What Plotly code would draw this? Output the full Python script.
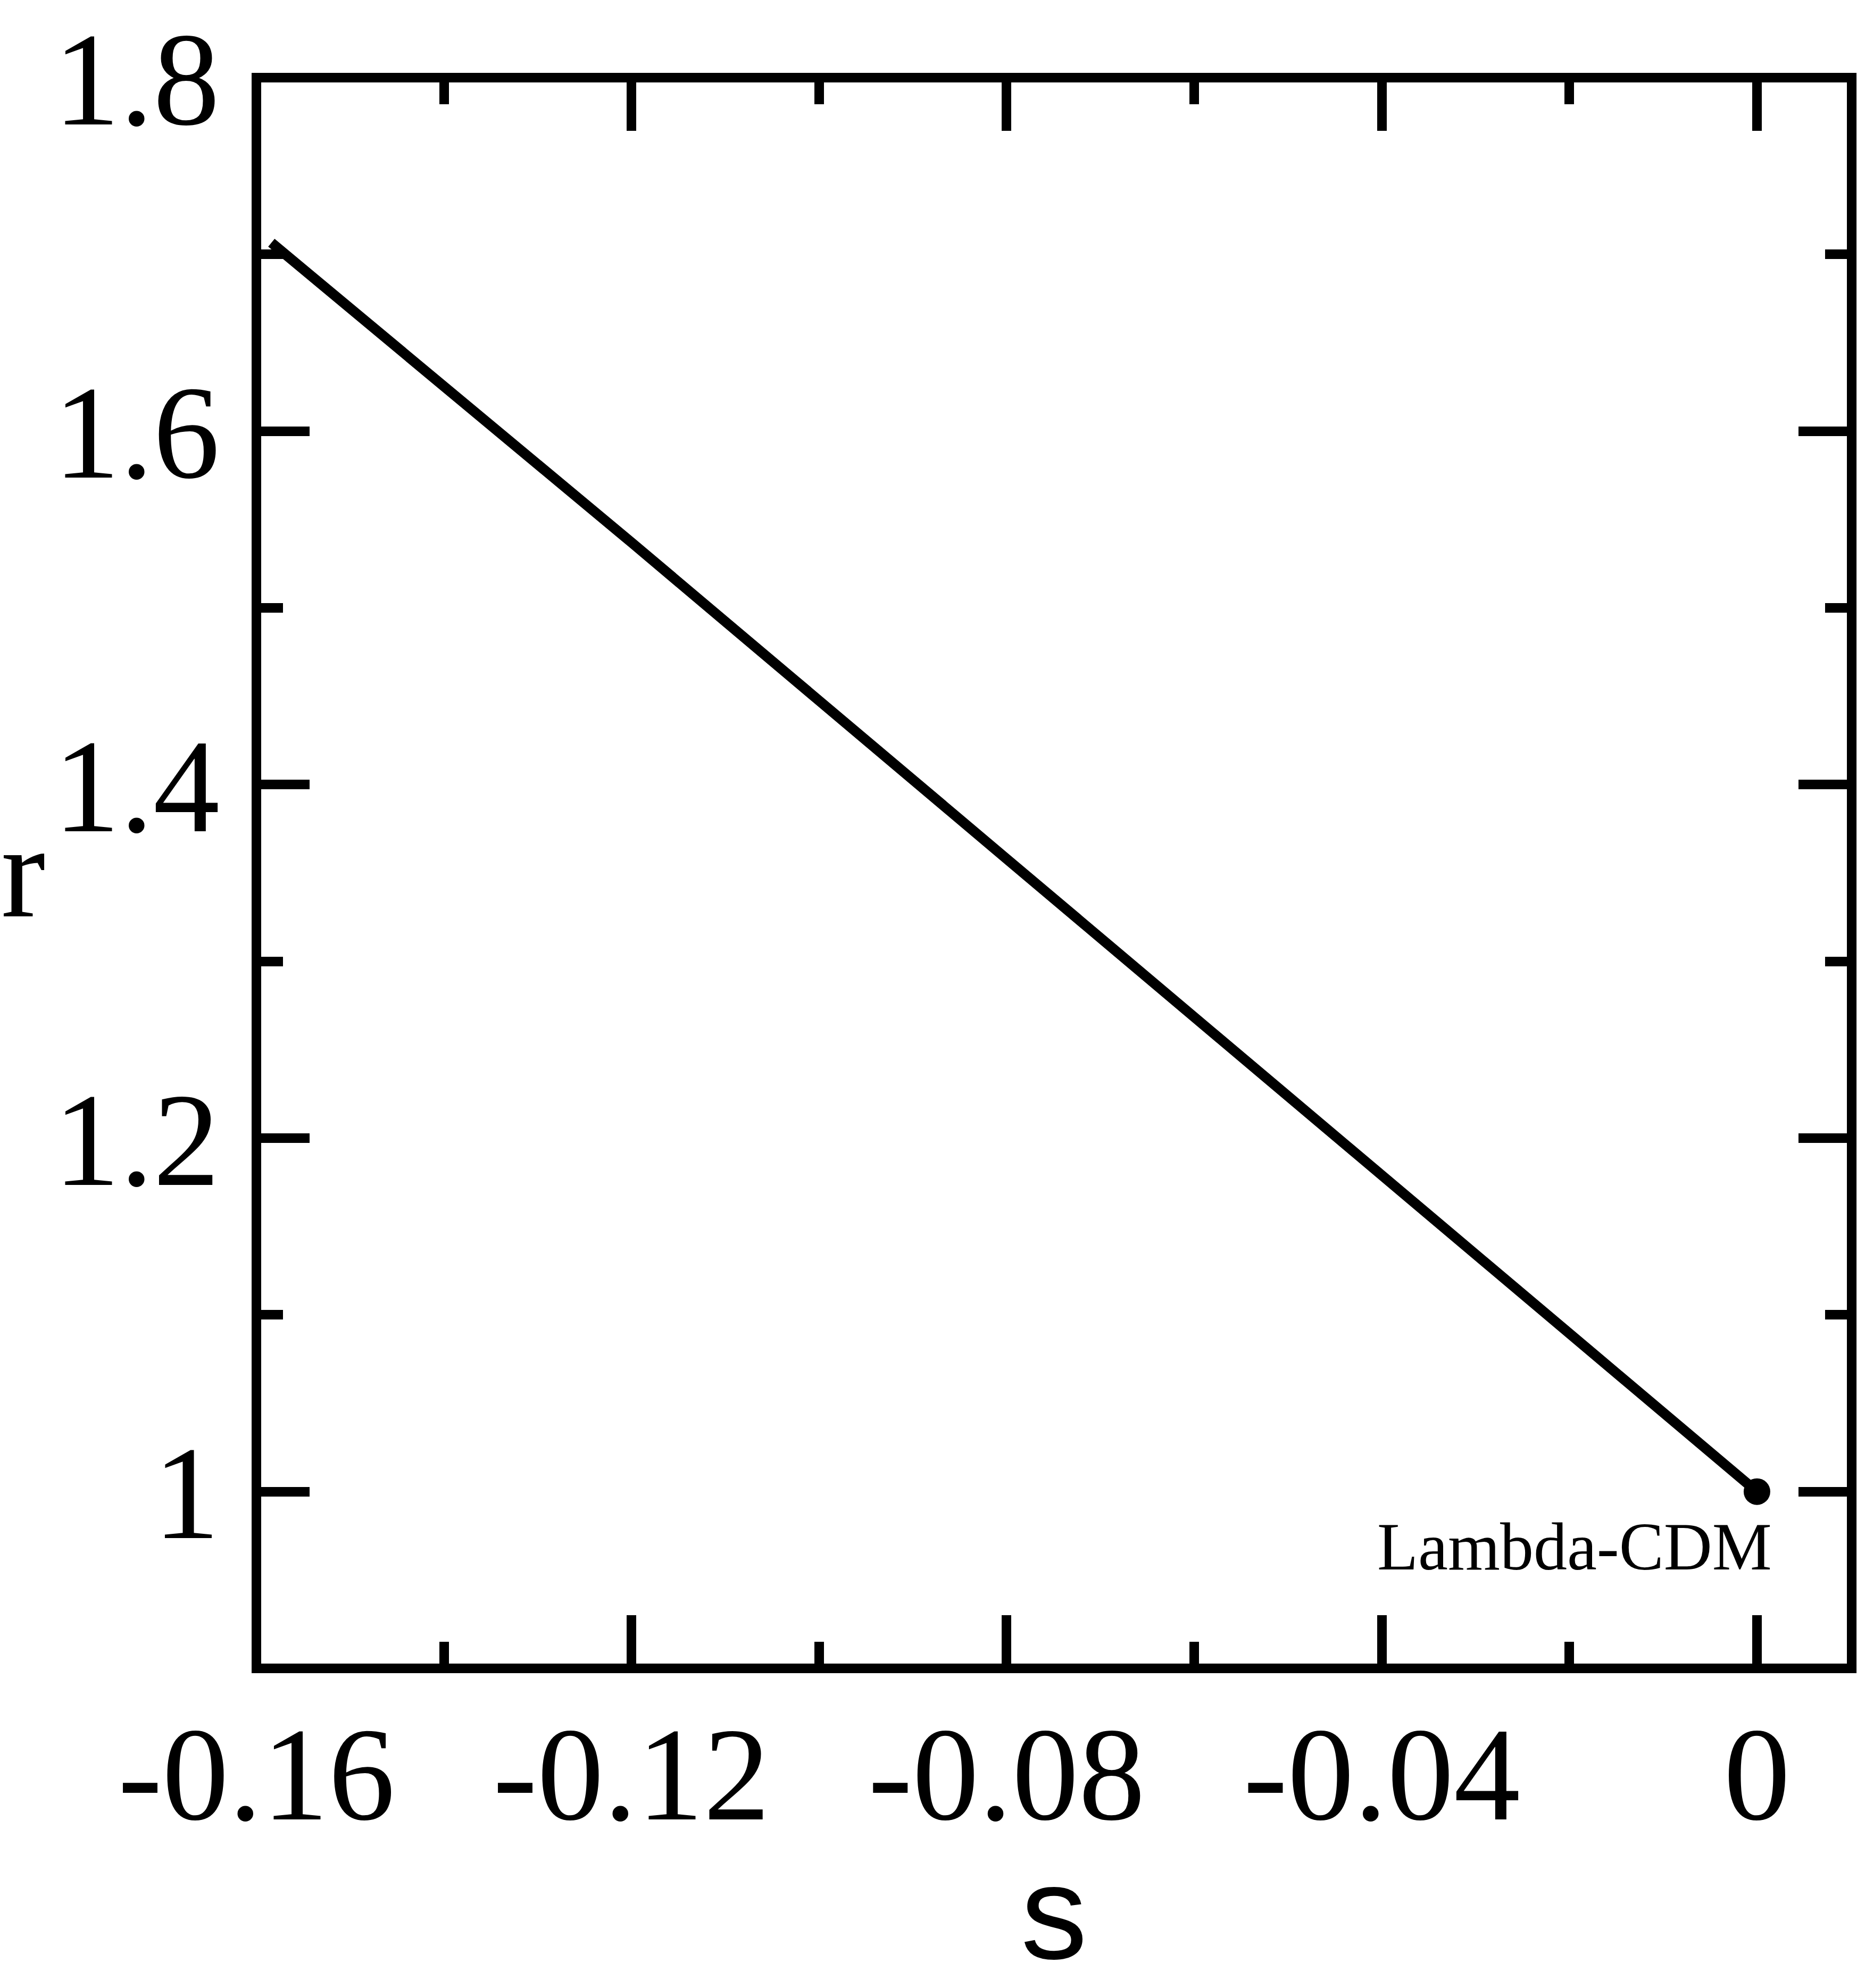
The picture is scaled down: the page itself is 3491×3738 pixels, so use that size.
import plotly.graph_objects as go

# statefinder trajectory r(s)
s_vals = [-0.1584, -0.12, -0.08, -0.04, 0.0]
r_vals = [1.7066, 1.537, 1.358, 1.179, 1.0]

# Lambda-CDM fixed point
lcdm_s = [0.0]
lcdm_r = [1.0]

x_ticks = [-0.16, -0.12, -0.08, -0.04, 0.0]
x_ticktext = ["-0.16", "-0.12", "-0.08", "-0.04", "0"]
y_ticks = [1.0, 1.2, 1.4, 1.6, 1.8]
y_ticktext = ["1", "1.2", "1.4", "1.6", "1.8"]

W, H = 3491, 3738
L, R, T, B = 482, 10, 139, 601
serif = "Liberation Serif, Times New Roman, serif"
sans = "Liberation Sans, Arial, sans-serif"


def px_to_paper(px, py):
    # pixel position in the page -> paper coords of the plot area
    return (px - L) / (W - L - R), 1 - (py - T) / (H - T - B)


fig = go.Figure()
fig.add_trace(go.Scatter(x=s_vals, y=r_vals, mode="lines",
                         line=dict(color="black", width=19), showlegend=False))
fig.add_trace(go.Scatter(x=lcdm_s, y=lcdm_r, mode="markers",
                         marker=dict(color="black", size=50), showlegend=False))

axis_common = dict(
    showline=False, showgrid=False, zeroline=False,
    ticks="inside", ticklen=100, tickwidth=18, tickcolor="black",
    mirror="ticks", tickfont=dict(family=serif, size=250, color="black"),
)

fig.update_xaxes(range=[-0.16, 0.0101], tickmode="array", tickvals=x_ticks,
                 ticktext=x_ticktext, ticklabelstandoff=33,
                 minor=dict(tickmode="linear", tick0=0, dtick=0.02, ticks="inside",
                            ticklen=50, tickwidth=18, tickcolor="black", showgrid=False),
                 **axis_common)
fig.update_yaxes(range=[0.9, 1.8], tickmode="array", tickvals=y_ticks,
                 ticktext=y_ticktext, ticklabelstandoff=68,
                 minor=dict(tickmode="linear", tick0=0, dtick=0.1, ticks="inside",
                            ticklen=50, tickwidth=18, tickcolor="black", showgrid=False),
                 **axis_common)

# frame
fig.add_shape(type="rect", xref="paper", yref="paper", x0=0, y0=0, x1=1, y1=1,
              line=dict(color="black", width=18), layer="above")

rx, ry = px_to_paper(0, 1635)
sx, sy = px_to_paper(1981, H)
lx, ly = px_to_paper(3333, 2908)
fig.add_annotation(x=rx, y=ry, xref="paper", yref="paper", text="r", showarrow=False,
                   xanchor="left", yanchor="middle",
                   font=dict(family=serif, size=250, color="black"))
fig.add_annotation(x=sx, y=sy, xref="paper", yref="paper", text="s", showarrow=False,
                   xanchor="center", yanchor="bottom", borderpad=0,
                   font=dict(family=sans, size=250, color="black"))
fig.add_annotation(x=lx, y=ly, xref="paper", yref="paper", text="Lambda-CDM",
                   showarrow=False, xanchor="right", yanchor="middle",
                   font=dict(family=serif, size=126, color="black"))

fig.update_layout(width=W, height=H, autosize=False,
                  margin=dict(l=L, r=R, t=T, b=B, pad=0),
                  plot_bgcolor="white", paper_bgcolor="white")

fig.write_html("out.html", config={"displayModeBar": False},
               post_script="document.body.style.margin='0';")
